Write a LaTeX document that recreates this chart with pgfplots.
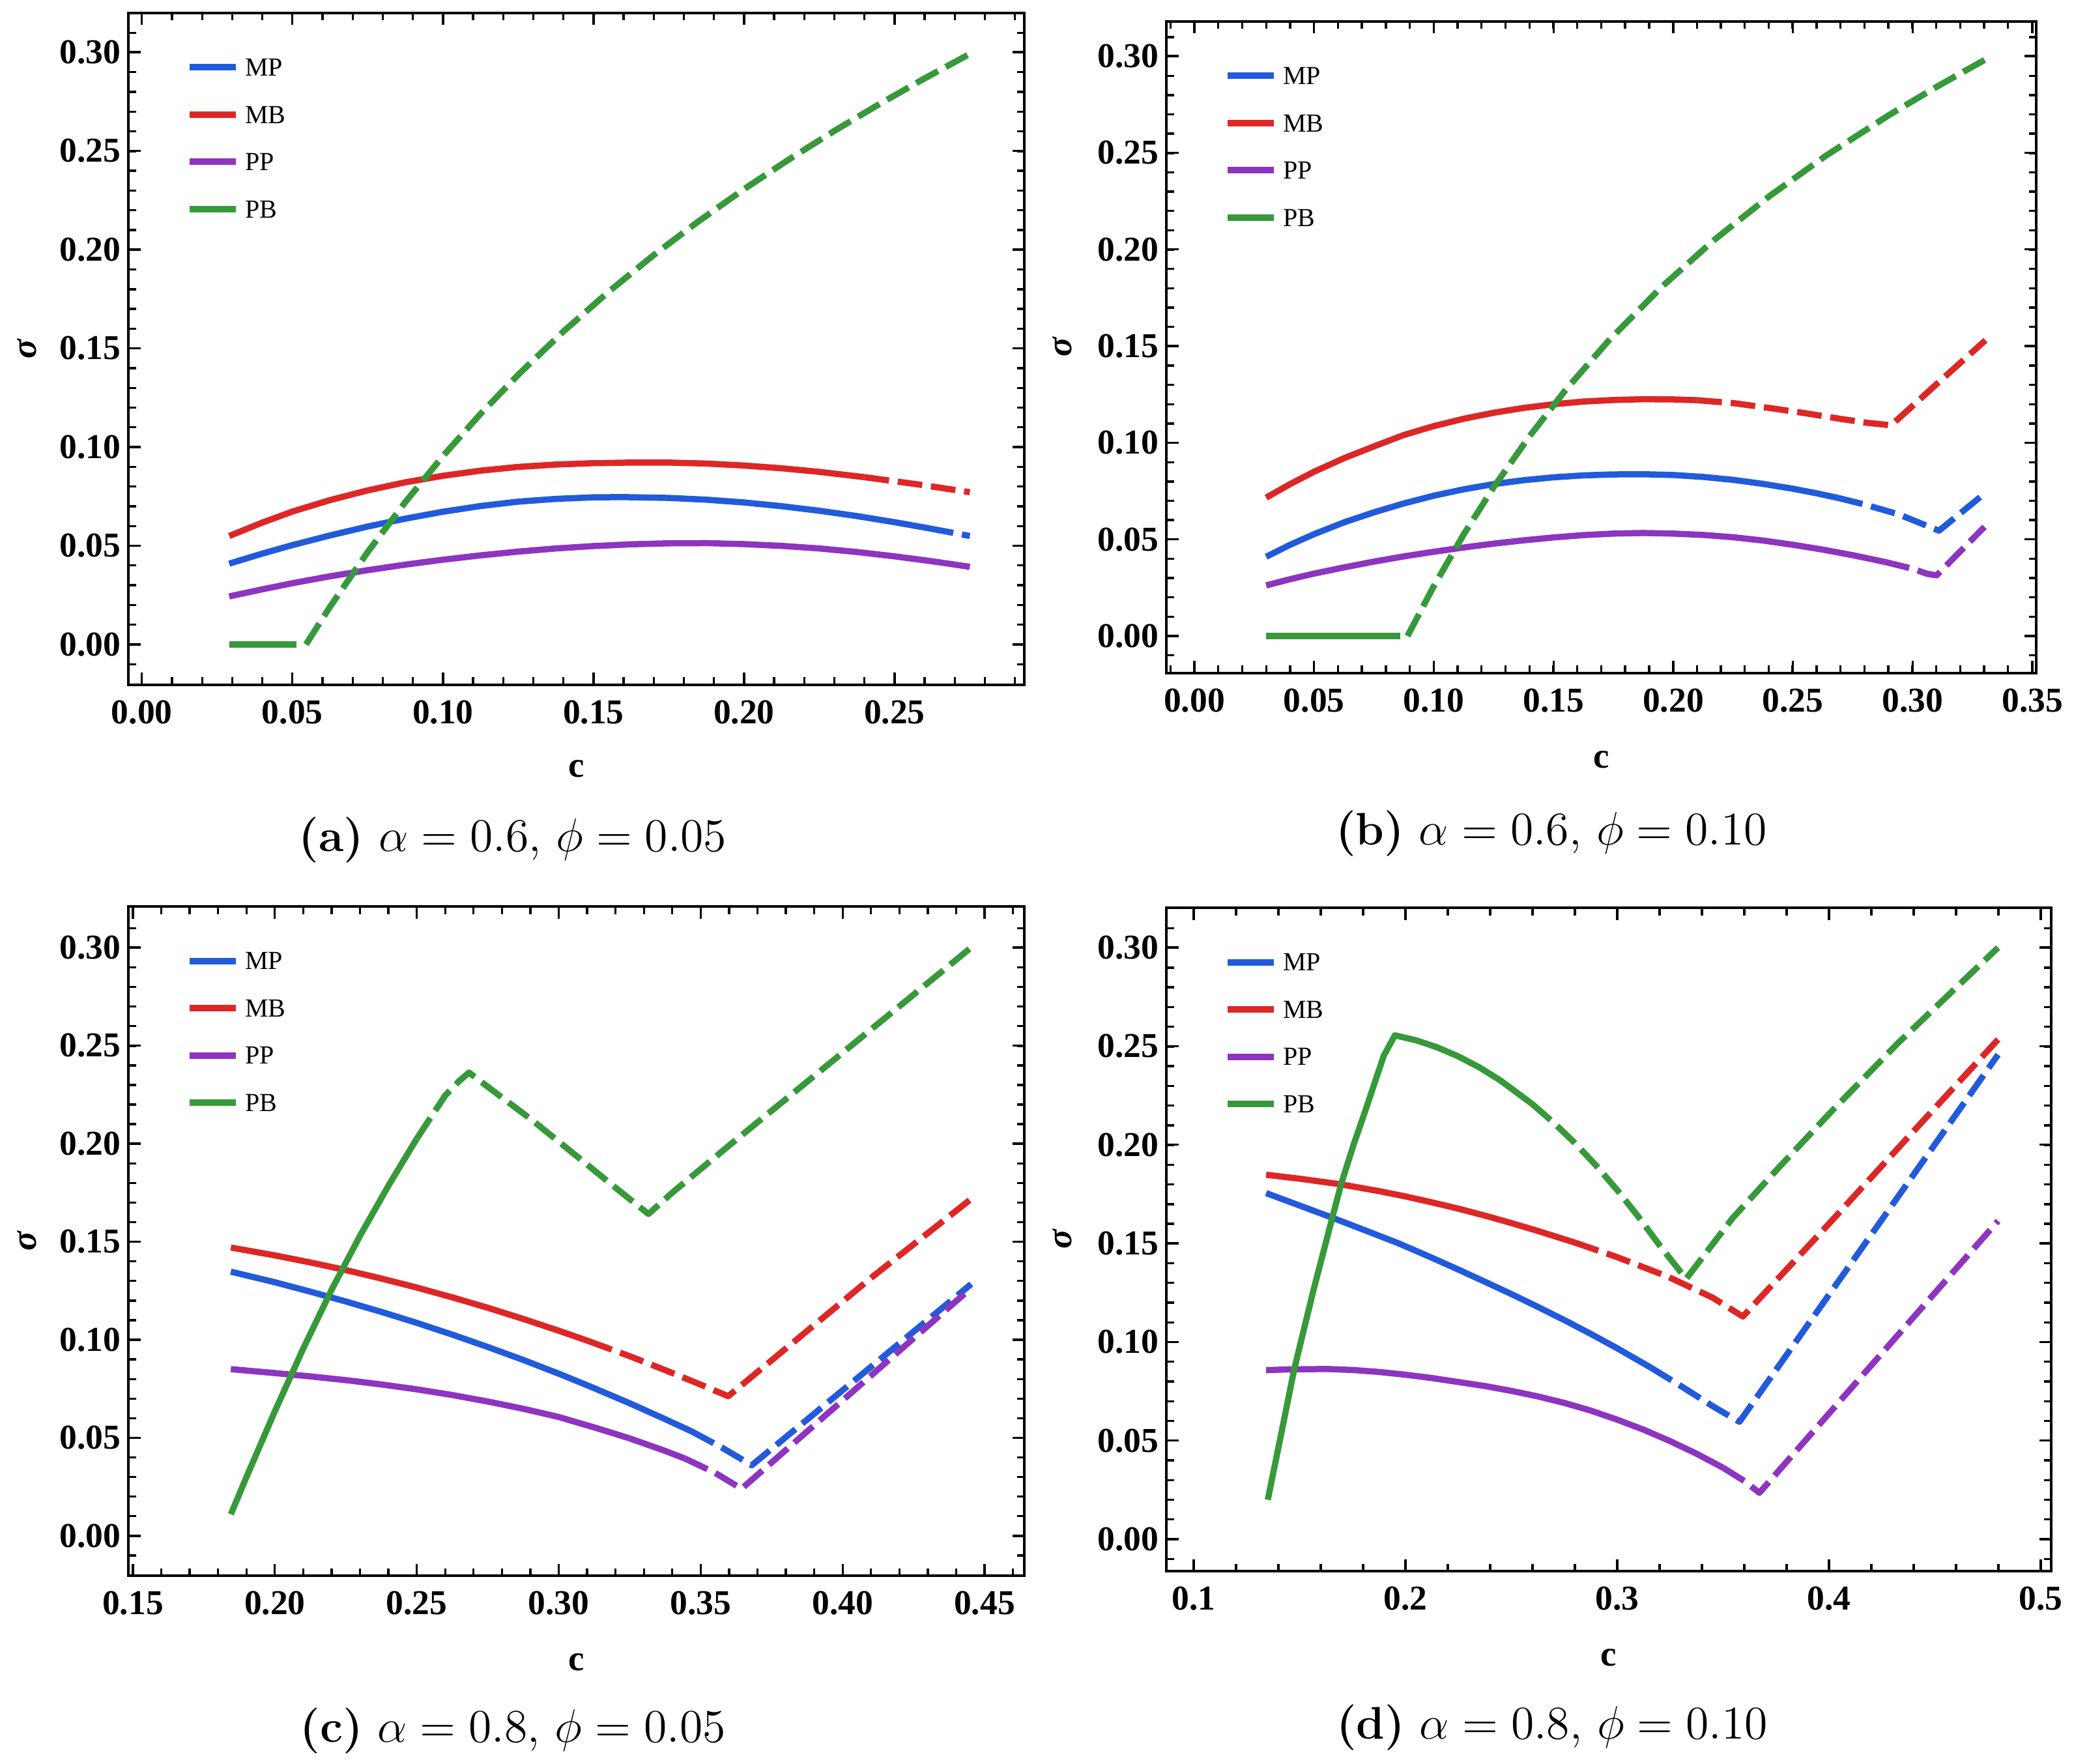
\documentclass[border=0pt]{standalone}
\usepackage{fontspec}
\usepackage{pgfplots}
\pgfplotsset{compat=1.18}
\newfontfamily\tf{Liberation Serif}
\definecolor{cMP}{RGB}{33,90,219}
\definecolor{cMB}{RGB}{221,39,38}
\definecolor{cPP}{RGB}{141,52,192}
\definecolor{cPB}{RGB}{54,153,58}
\pgfplotsset{
  panel/.style={
    scale only axis,
    axis line style={line width=0.8pt},
    tick align=inside, tick pos=both,
    major tick length=3.7pt, minor tick length=2.3pt,
    tick style={line width=0.67pt, black},
    scaled ticks=false,
    /pgf/number format/assume math mode=true,
    ticklabel style={font=\tf\bfseries\fontsize{10.7}{12}\selectfont},
    xticklabel style={yshift=-1.2pt, /pgf/number format/fixed, /pgf/number format/fixed zerofill, /pgf/number format/precision=2},
    yticklabel style={xshift=1.2pt, /pgf/number format/fixed, /pgf/number format/fixed zerofill, /pgf/number format/precision=2},
    ytick={0,0.05,0.10,0.15,0.20,0.25,0.30},
    minor ytick={-0.01,0,0.01,...,0.31},
    xlabel={c}, ylabel={σ},
    xlabel style={font=\tf\bfseries\fontsize{11}{13}\selectfont, anchor=base},
    ylabel style={font=\tf\bfseries\itshape\fontsize{11}{13}\selectfont, anchor=center},
    legend cell align=left,
    legend style={at={(0,1)}, anchor=north west, xshift=17.6pt, yshift=-13.85pt,
      draw=none, fill=none, inner xsep=0pt, inner ysep=0pt, row sep=9.2pt, column sep=1.8pt,
      nodes={inner sep=0pt, text height=5.3pt, text depth=0pt, font=\tf\fontsize{8}{9.6}\selectfont}},
    legend image code/.code={\draw[##1] (0pt,0pt) -- (14.2pt,0pt);},
  },
  sol/.style={line width=1.9pt, line join=round, no markers, forget plot},
  dsh/.style={line width=1.9pt, line join=round, no markers, forget plot, dash pattern=on 7.6pt off 2.7pt},
}
\begin{document}
\begin{tikzpicture}
\path[use as bounding box] (0,0) rectangle (636.6pt,541.2pt);

% ---------------- (a)
\begin{axis}[panel, at={(39.4pt,331.0pt)}, anchor=south west, width=275pt, height=206.2pt,
  xmin=-0.0045, xmax=0.2931, ymin=-0.0205, ymax=0.3198,
  xtick={0,0.05,0.10,0.15,0.20,0.25}, minor xtick={0,0.01,...,0.29},
  xlabel style={at={(axis description cs:0.5,-0.1377)}},
  ylabel style={at={(axis description cs:-0.1135,0.5)}}]
\addlegendimage{cMP, line width=2pt}\addlegendentry{MP}
\addlegendimage{cMB, line width=2pt}\addlegendentry{MB}
\addlegendimage{cPP, line width=2pt}\addlegendentry{PP}
\addlegendimage{cPB, line width=2pt}\addlegendentry{PB}
\addplot[sol, cMP] coordinates {(0.029,0.0409) (0.04,0.0460) (0.05,0.0503) (0.0625,0.0552) (0.075,0.0597) (0.0875,0.0637) (0.10,0.0672) (0.1125,0.0701) (0.125,0.0723) (0.1375,0.0737) (0.15,0.0745) (0.16,0.0746) (0.175,0.0742) (0.1875,0.0733) (0.20,0.0719) (0.2125,0.0700) (0.225,0.0677) (0.2375,0.0650) (0.25,0.0619) (0.26,0.0592) (0.2695,0.0565)};
\addplot[dsh, cMP, dash phase=7.6pt] coordinates {(0.2695,0.0565) (0.275,0.0549)};
\addplot[sol, cMB] coordinates {(0.029,0.0549) (0.04,0.0617) (0.05,0.0673) (0.0625,0.0731) (0.075,0.0780) (0.0875,0.0821) (0.10,0.0854) (0.1125,0.0880) (0.125,0.0899) (0.1375,0.0911) (0.15,0.0918) (0.1625,0.0921) (0.175,0.0921) (0.1875,0.0916) (0.20,0.0906) (0.2125,0.0892) (0.225,0.0874) (0.24,0.0847)};
\addplot[dsh, cMB] coordinates {(0.24,0.0847) (0.2575,0.0811) (0.275,0.0771)};
\addplot[sol, cPP] coordinates {(0.029,0.0243) (0.04,0.0279) (0.05,0.0310) (0.0625,0.0345) (0.075,0.0376) (0.0875,0.0404) (0.10,0.0429) (0.1125,0.0451) (0.125,0.0470) (0.1375,0.0486) (0.15,0.0498) (0.1625,0.0507) (0.175,0.0512) (0.1875,0.0513) (0.20,0.0508) (0.2125,0.0499) (0.225,0.0486) (0.2375,0.0468) (0.25,0.0446) (0.2625,0.0421) (0.275,0.0393)};
\addplot[sol, cPB] coordinates {(0.029,0) (0.0513,0)};
\addplot[dsh, cPB] coordinates {(0.0545,0) (0.0625,0.0191) (0.075,0.0468) (0.0875,0.0721) (0.10,0.0954) (0.1125,0.1168) (0.125,0.1366) (0.14,0.1585) (0.155,0.1786) (0.17,0.1972) (0.185,0.2144) (0.20,0.2306) (0.215,0.2457) (0.23,0.2601) (0.245,0.2737) (0.26,0.2867) (0.275,0.2991)};
\end{axis}

% ---------------- (b)
\begin{axis}[panel, at={(358.0pt,334.6pt)}, anchor=south west, width=267pt, height=200pt,
  xmin=-0.0117, xmax=0.3516, ymin=-0.0192, ymax=0.3179,
  xtick={0,0.05,0.10,0.15,0.20,0.25,0.30,0.35}, minor xtick={-0.01,0,0.01,...,0.35},
  xlabel style={at={(axis description cs:0.5,-0.145)}},
  ylabel style={at={(axis description cs:-0.1199,0.5)}}]
\addlegendimage{cMP, line width=2pt}\addlegendentry{MP}
\addlegendimage{cMB, line width=2pt}\addlegendentry{MB}
\addlegendimage{cPP, line width=2pt}\addlegendentry{PP}
\addlegendimage{cPB, line width=2pt}\addlegendentry{PB}
\addplot[sol, cMP] coordinates {(0.03,0.0410) (0.04,0.0472) (0.05,0.0527) (0.0625,0.0588) (0.075,0.0640) (0.0875,0.0686) (0.10,0.0726) (0.1125,0.0759) (0.125,0.0786) (0.1375,0.0806) (0.15,0.0821) (0.1625,0.0831) (0.175,0.0836) (0.1875,0.0837) (0.20,0.0833) (0.2125,0.0823) (0.225,0.0808) (0.2375,0.0787) (0.25,0.0762) (0.26,0.0738) (0.269,0.0714)};
\addplot[dsh, cMP] coordinates {(0.269,0.0714) (0.28,0.0680) (0.294,0.0630) (0.311,0.0545) (0.330,0.0737)};
\addplot[sol, cMB] coordinates {(0.03,0.0716) (0.04,0.0786) (0.05,0.0850) (0.0625,0.0920) (0.075,0.0981) (0.0875,0.1040) (0.10,0.1086) (0.1125,0.1124) (0.125,0.1155) (0.1375,0.1180) (0.15,0.1199) (0.1625,0.1213) (0.175,0.1221) (0.1875,0.1225) (0.20,0.1224) (0.21,0.1220)};
\addplot[dsh, cMB] coordinates {(0.21,0.1220) (0.225,0.1205) (0.24,0.1180) (0.255,0.1153) (0.27,0.1123) (0.281,0.1103) (0.291,0.1090) (0.3106,0.1310) (0.3304,0.1530)};
\addplot[sol, cPP] coordinates {(0.03,0.0262) (0.04,0.0294) (0.05,0.0323) (0.0625,0.0355) (0.075,0.0385) (0.0875,0.0412) (0.10,0.0436) (0.1125,0.0458) (0.125,0.0478) (0.1375,0.0495) (0.15,0.0510) (0.1625,0.0522) (0.175,0.0530) (0.1875,0.0533) (0.20,0.0530) (0.2125,0.0523) (0.225,0.0511) (0.2375,0.0494) (0.25,0.0472) (0.2625,0.0447) (0.275,0.0418) (0.2885,0.0383)};
\addplot[dsh, cPP] coordinates {(0.2885,0.0383) (0.30,0.0348) (0.306,0.0322) (0.31,0.0314) (0.330,0.0565)};
\addplot[sol, cPB] coordinates {(0.03,0) (0.086,0)};
\addplot[dsh, cPB] coordinates {(0.089,0) (0.10,0.0258) (0.1123,0.0522) (0.125,0.0770) (0.14,0.1034) (0.155,0.1272) (0.173,0.1528) (0.195,0.1804) (0.217,0.2048) (0.24,0.2274) (0.2638,0.2485) (0.29,0.2694) (0.31,0.2841) (0.330,0.2980)};
\end{axis}

% ---------------- (c)
\begin{axis}[panel, at={(39.4pt,57.6pt)}, anchor=south west, width=275pt, height=205.4pt,
  xmin=0.1484, xmax=0.4640, ymin=-0.0203, ymax=0.3209,
  xtick={0.15,0.20,0.25,0.30,0.35,0.40,0.45}, minor xtick={0.15,0.16,...,0.46},
  xlabel style={at={(axis description cs:0.5,-0.1412)}},
  ylabel style={at={(axis description cs:-0.1135,0.5)}}]
\addlegendimage{cMP, line width=2pt}\addlegendentry{MP}
\addlegendimage{cMB, line width=2pt}\addlegendentry{MB}
\addlegendimage{cPP, line width=2pt}\addlegendentry{PP}
\addlegendimage{cPB, line width=2pt}\addlegendentry{PB}
\addplot[sol, cMP] coordinates {(0.1845,0.1347) (0.20,0.1293) (0.2125,0.1245) (0.225,0.1195) (0.2375,0.1142) (0.25,0.1086) (0.2625,0.1026) (0.275,0.0963) (0.2875,0.0897) (0.30,0.0827) (0.3125,0.0753) (0.325,0.0676) (0.3375,0.0595) (0.3469,0.0532)};
\addplot[dsh, cMP] coordinates {(0.3469,0.0532) (0.3575,0.0450) (0.368,0.0360) (0.4453,0.1284)};
\addplot[sol, cMB] coordinates {(0.1845,0.1470) (0.20,0.1430) (0.2125,0.1394) (0.225,0.1355) (0.2375,0.1312) (0.25,0.1266) (0.2625,0.1216) (0.275,0.1163) (0.2875,0.1106) (0.30,0.1046) (0.3105,0.0993)};
\addplot[dsh, cMB] coordinates {(0.3105,0.0993) (0.325,0.0916) (0.3375,0.0845) (0.35,0.0771) (0.3597,0.0712) (0.385,0.1015) (0.41,0.1315) (0.4453,0.1718)};
\addplot[sol, cPP] coordinates {(0.1845,0.0850) (0.20,0.0830) (0.2125,0.0813) (0.225,0.0794) (0.2375,0.0772) (0.25,0.0747) (0.2625,0.0718) (0.275,0.0685) (0.2875,0.0648) (0.30,0.0606) (0.3125,0.0553) (0.325,0.0497) (0.3375,0.0433) (0.3445,0.0394)};
\addplot[dsh, cPP] coordinates {(0.3445,0.0394) (0.355,0.0322) (0.3644,0.0240) (0.4453,0.1264)};
\addplot[sol, cPB] coordinates {(0.1845,0.011) (0.19,0.030) (0.20,0.0635) (0.21,0.0955) (0.22,0.1255) (0.23,0.153) (0.24,0.1785) (0.25,0.2025)};
\addplot[dsh, cPB] coordinates {(0.25,0.2025) (0.26,0.2245) (0.265,0.2320) (0.2684,0.2362) (0.28,0.2235) (0.2906,0.2120) (0.30,0.2010) (0.3094,0.1900) (0.32,0.1775) (0.3316,0.1641) (0.34,0.175) (0.36,0.199) (0.39,0.2345) (0.42,0.270) (0.4453,0.30)};
\end{axis}

% ---------------- (d)
\begin{axis}[panel, at={(358.0pt,59.0pt)}, anchor=south west, width=271.6pt, height=203.6pt,
  xmin=0.0871, xmax=0.5049, ymin=-0.0162, ymax=0.3202,
  xtick={0.1,0.2,0.3,0.4,0.5}, minor xtick={0.1,0.12,...,0.5},
  xticklabel style={/pgf/number format/precision=1},
  xlabel style={at={(axis description cs:0.5,-0.1434)}},
  ylabel style={at={(axis description cs:-0.1178,0.5)}}]
\addlegendimage{cMP, line width=2pt}\addlegendentry{MP}
\addlegendimage{cMB, line width=2pt}\addlegendentry{MB}
\addlegendimage{cPP, line width=2pt}\addlegendentry{PP}
\addlegendimage{cPB, line width=2pt}\addlegendentry{PB}
\addplot[sol, cMP] coordinates {(0.1342,0.1755) (0.15,0.1692) (0.165,0.1632) (0.18,0.1570) (0.1968,0.1500) (0.2125,0.1427) (0.225,0.1367) (0.2378,0.1304) (0.25,0.1243) (0.2625,0.1178) (0.275,0.1111) (0.2875,0.1041) (0.30,0.0968) (0.3157,0.0871)};
\addplot[dsh, cMP] coordinates {(0.3157,0.0871) (0.33,0.0777) (0.345,0.0675) (0.3577,0.0595) (0.4798,0.2457)};
\addplot[sol, cMB] coordinates {(0.1342,0.1848) (0.15,0.1828) (0.1691,0.1800) (0.1875,0.1765) (0.20,0.1738) (0.2125,0.1708) (0.225,0.1676) (0.2378,0.1640) (0.25,0.1603) (0.2625,0.1563) (0.28,0.1504)};
\addplot[dsh, cMB] coordinates {(0.28,0.1504) (0.30,0.1430) (0.3235,0.1333) (0.345,0.1225) (0.3593,0.1129) (0.40,0.160) (0.44,0.207) (0.4798,0.2534)};
\addplot[sol, cPP] coordinates {(0.1342,0.0857) (0.145,0.0861) (0.1628,0.0863) (0.175,0.0858) (0.1875,0.0848) (0.20,0.0834) (0.2125,0.0817) (0.225,0.0797) (0.2378,0.0776) (0.25,0.0752) (0.2625,0.0724) (0.275,0.0691) (0.2875,0.0652) (0.30,0.0606) (0.3125,0.0555) (0.325,0.0497) (0.3375,0.0433) (0.35,0.0362)};
\addplot[dsh, cPP] coordinates {(0.35,0.0362) (0.36,0.0295) (0.3671,0.0235) (0.4798,0.1614)};
\addplot[sol, cPB] coordinates {(0.1350,0.0200) (0.1414,0.0538) (0.1475,0.0863) (0.1565,0.1260) (0.1655,0.1632) (0.1696,0.1800) (0.1755,0.2000) (0.1815,0.2187) (0.1897,0.2450) (0.1950,0.2555) (0.205,0.2530) (0.215,0.2494) (0.225,0.2448) (0.235,0.2392) (0.245,0.2325) (0.2597,0.2208)};
\addplot[dsh, cPB] coordinates {(0.2597,0.2208) (0.27,0.2112) (0.28,0.2009) (0.29,0.1895) (0.30,0.1770) (0.31,0.1635) (0.32,0.1490) (0.3325,0.1320) (0.3546,0.1630) (0.3764,0.1886) (0.4013,0.2171) (0.4324,0.2514) (0.4798,0.3000)};
\end{axis}

\node[anchor=base] at (157.4pt,279.8pt) {\fontsize{14}{16}\selectfont\textbf{(a)} $\alpha = 0.6$, $\phi = 0.05$};
\node[anchor=base] at (476.2pt,281.8pt) {\fontsize{14}{16}\selectfont\textbf{(b)} $\alpha = 0.6$, $\phi = 0.10$};
\node[anchor=base] at (157.4pt,6.6pt) {\fontsize{14}{16}\selectfont\textbf{(c)} $\alpha = 0.8$, $\phi = 0.05$};
\node[anchor=base] at (476.4pt,7.6pt) {\fontsize{14}{16}\selectfont\textbf{(d)} $\alpha = 0.8$, $\phi = 0.10$};
\end{tikzpicture}
\end{document}
